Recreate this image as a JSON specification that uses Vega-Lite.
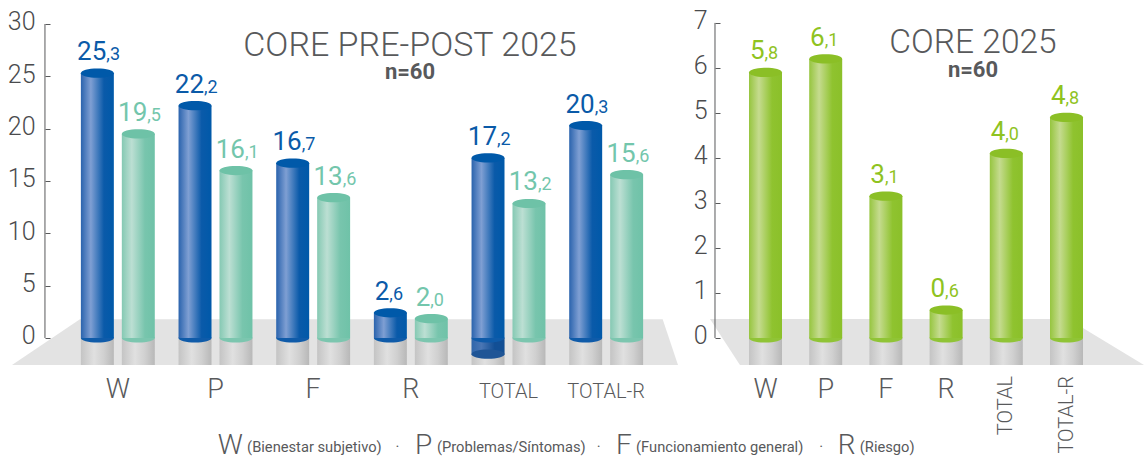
{"$schema":"https://vega.github.io/schema/vega-lite/v6.json","background":"white","padding":{"left":7,"top":8,"right":0,"bottom":92},"bounds":"flush","spacing":32,"config":{"view":{"stroke":null},"font":"Roboto"},"datasets":{"left":[{"cat":"W","series":"pre","value":25.3,"int":"25","dec":",3","digits":2},{"cat":"W","series":"post","value":19.5,"int":"19","dec":",5","digits":2},{"cat":"P","series":"pre","value":22.2,"int":"22","dec":",2","digits":2},{"cat":"P","series":"post","value":16.0,"int":"16","dec":",1","digits":2},{"cat":"F","series":"pre","value":16.7,"int":"16","dec":",7","digits":2},{"cat":"F","series":"post","value":13.4,"int":"13","dec":",6","digits":2},{"cat":"R","series":"pre","value":2.4,"int":"2","dec":",6","digits":1},{"cat":"R","series":"post","value":1.85,"int":"2","dec":",0","digits":1},{"cat":"TOTAL","series":"pre","value":17.2,"int":"17","dec":",2","digits":2},{"cat":"TOTAL","series":"post","value":12.85,"int":"13","dec":",2","digits":2},{"cat":"TOTAL-R","series":"pre","value":20.3,"int":"20","dec":",3","digits":2},{"cat":"TOTAL-R","series":"post","value":15.6,"int":"15","dec":",6","digits":2}],"right":[{"cat":"W","value":5.9,"int":"5","dec":",8"},{"cat":"P","value":6.2,"int":"6","dec":",1"},{"cat":"F","value":3.15,"int":"3","dec":",1"},{"cat":"R","value":0.62,"int":"0","dec":",6"},{"cat":"TOTAL","value":4.1,"int":"4","dec":",0"},{"cat":"TOTAL-R","value":4.9,"int":"4","dec":",8"}],"floorL":[{"u":0,"y":-2.58,"y2":-2.58},{"u":0.102,"y":-2.58,"y2":1.8},{"u":0.977,"y":-2.58,"y2":1.8},{"u":1,"y":-2.58,"y2":-2.58}],"floorR2":[{"u":0,"y":0.42,"y2":0.42},{"u":0.069,"y":-0.6,"y2":0.42},{"u":0.825,"y":-0.6,"y2":0.42},{"u":1,"y":-0.6,"y2":-0.6}],"legendBig":[{"u":0.309,"t":"W"},{"u":0.605,"t":"P"},{"u":0.907,"t":"F"},{"u":1.24,"t":"R"}],"legendSmall":[{"u":0.353,"t":"(Bienestar subjetivo)"},{"u":0.638,"t":"(Problemas/Síntomas)"},{"u":0.937,"t":"(Funcionamiento general)"},{"u":1.273,"t":"(Riesgo)"},{"u":0.576,"t":"·"},{"u":0.878,"t":"·"},{"u":1.212,"t":"·"}]},"hconcat":[{"width":666,"height":343,"title":{"text":"CORE PRE-POST 2025","subtitle":"n=60","anchor":"middle","dx":65,"offset":-73,"fontSize":34,"font":"Roboto","fontWeight":300,"color":"#58595b","subtitleFont":"Roboto","subtitleFontSize":22,"subtitleFontWeight":"bold","subtitleColor":"#58595b","subtitlePadding":-1},"resolve":{"scale":{"x":"independent"}},"layer":[{"encoding":{"x":{"field":"u","type":"quantitative","scale":{"domain":[0,1]},"axis":null}},"layer":[{"data":{"name":"floorL"},"mark":{"type":"area","color":"#e3e3e3"},"encoding":{"y":{"field":"y","type":"quantitative","scale":{"domain":[-2.58,30.19],"nice":false}},"y2":{"field":"y2"}}},{"data":{"values":[{"u":0.0495}]},"mark":{"type":"rule","color":"#58595b","strokeWidth":1},"encoding":{"y":{"datum":0,"type":"quantitative"},"y2":{"datum":30}}},{"data":{"name":"legendBig"},"mark":{"type":"text","align":"left","baseline":"alphabetic","fontSize":28,"fontWeight":300,"color":"#58595b"},"encoding":{"y":{"datum":-11.1,"type":"quantitative"},"text":{"field":"t"}}},{"data":{"name":"legendSmall"},"mark":{"type":"text","align":"left","baseline":"alphabetic","fontSize":14.7,"font":"Roboto","color":"#58595b"},"encoding":{"y":{"datum":-10.85,"type":"quantitative"},"text":{"field":"t"}}}]},{"data":{"name":"left"},"encoding":{"x":{"field":"cat","type":"nominal","sort":null,"scale":{"domain":["W","P","F","R","TOTAL","TOTAL-R"],"range":[57,643],"paddingInner":0,"paddingOuter":0},"axis":{"title":null,"ticks":false,"domain":false,"labelAngle":0,"labelBaseline":"alphabetic","labelPadding":32,"labelColor":"#58595b","labelFont":"Roboto","labelFontWeight":300,"labelFontSize":{"condition":{"test":"length(datum.label)>1","value":20},"value":27}}},"xOffset":{"field":"series","sort":["pre","post"],"scale":{"paddingInner":0.195,"paddingOuter":0.29}}},"layer":[{"mark":{"type":"bar","color":{"gradient":"linear","x1":0,"y1":0,"x2":1,"y2":0,"stops":[{"offset":0,"color":"#c4c4c4"},{"offset":0.4,"color":"#e0e0e0"},{"offset":0.7,"color":"#d0d0d0"},{"offset":1,"color":"#b8b8b8"}]}},"encoding":{"y":{"datum":0,"type":"quantitative","axis":{"title":null,"values":[0,5,10,15,20,25,30],"grid":false,"domain":false,"offset":-33,"zindex":1,"tickSize":-5,"tickColor":"#58595b","labelFontSize":25,"labelFont":"Roboto","labelFontWeight":300,"labelColor":"#4a4b4d","labelPadding":15,"labelBaseline":"alphabetic","labelOffset":6}},"y2":{"datum":-2.58}}},{"transform":[{"filter":"datum.cat=='TOTAL'&&datum.series=='pre'"}],"mark":{"type":"bar","color":{"gradient":"linear","x1":0,"y1":0,"x2":1,"y2":0,"stops":[{"offset":0,"color":"#2f66ab"},{"offset":0.3,"color":"#4a76b4"},{"offset":0.7,"color":"#124f95"},{"offset":1,"color":"#124f95"}]}},"encoding":{"y":{"datum":0,"type":"quantitative"},"y2":{"datum":-1.55}}},{"transform":[{"filter":"datum.cat=='TOTAL'&&datum.series=='pre'"}],"mark":{"type":"point","filled":true,"opacity":1,"size":1089,"shape":"M-1,0 A1,0.28 0 1 1 1,0 A1,0.28 0 1 1 -1,0 Z","color":"#1f5596"},"encoding":{"y":{"datum":-1.55,"type":"quantitative"}}},{"mark":{"type":"point","filled":true,"opacity":1,"size":1089,"shape":"M-1,0 A1,0.28 0 1 1 1,0 A1,0.28 0 1 1 -1,0 Z"},"encoding":{"y":{"datum":0,"type":"quantitative"},"color":{"condition":{"test":"datum.series=='pre'","value":"#0f5ba9"},"value":"#7cc6af"}}},{"mark":{"type":"bar"},"encoding":{"y":{"field":"value","type":"quantitative"},"y2":{"datum":0},"color":{"condition":{"test":"datum.series=='pre'","value":{"gradient":"linear","x1":0,"y1":0,"x2":1,"y2":0,"stops":[{"offset":0,"color":"#2a63ad"},{"offset":0.3,"color":"#7f9fd3"},{"offset":0.7,"color":"#0a5aa9"},{"offset":1,"color":"#0059a9"}]}},"value":{"gradient":"linear","x1":0,"y1":0,"x2":1,"y2":0,"stops":[{"offset":0,"color":"#85c9b3"},{"offset":0.3,"color":"#bcdfd3"},{"offset":0.7,"color":"#78c5ad"},{"offset":1,"color":"#6fc2a8"}]}}}},{"mark":{"type":"point","filled":true,"opacity":1,"size":1089,"shape":"M-1,0 A1,0.28 0 1 1 1,0 A1,0.28 0 1 1 -1,0 Z"},"encoding":{"y":{"field":"value","type":"quantitative"},"color":{"condition":{"test":"datum.series=='pre'","value":"#0059a9"},"value":"#6ec2a7"}}},{"transform":[{"filter":"datum.digits==2"}],"mark":{"type":"text","align":"right","baseline":"alphabetic","dx":9,"dy":-13,"fontSize":26},"encoding":{"y":{"field":"value","type":"quantitative"},"text":{"field":"int"},"color":{"condition":{"test":"datum.series=='pre'","value":"#0a5aa8"},"value":"#73c6ac"}}},{"transform":[{"filter":"datum.digits==2"}],"mark":{"type":"text","align":"left","baseline":"alphabetic","dx":9,"dy":-13,"fontSize":18},"encoding":{"y":{"field":"value","type":"quantitative"},"text":{"field":"dec"},"color":{"condition":{"test":"datum.series=='pre'","value":"#0a5aa8"},"value":"#73c6ac"}}},{"transform":[{"filter":"datum.digits==1"}],"mark":{"type":"text","align":"right","baseline":"alphabetic","dx":-1,"dy":-13,"fontSize":26},"encoding":{"y":{"field":"value","type":"quantitative"},"text":{"field":"int"},"color":{"condition":{"test":"datum.series=='pre'","value":"#0a5aa8"},"value":"#73c6ac"}}},{"transform":[{"filter":"datum.digits==1"}],"mark":{"type":"text","align":"left","baseline":"alphabetic","dx":-1,"dy":-13,"fontSize":18},"encoding":{"y":{"field":"value","type":"quantitative"},"text":{"field":"dec"},"color":{"condition":{"test":"datum.series=='pre'","value":"#0a5aa8"},"value":"#73c6ac"}}}]}]},{"width":434,"height":343,"title":{"text":"CORE 2025","subtitle":"n=60","anchor":"middle","dx":46,"offset":-73,"fontSize":33.5,"font":"Roboto","fontWeight":300,"color":"#58595b","subtitleFont":"Roboto","subtitleFontSize":22,"subtitleFontWeight":"bold","subtitleColor":"#58595b","subtitlePadding":-1},"resolve":{"scale":{"x":"independent"}},"layer":[{"encoding":{"x":{"field":"u","type":"quantitative","scale":{"domain":[0,1]},"axis":null}},"layer":[{"data":{"name":"floorR2"},"mark":{"type":"area","color":"#e3e3e3"},"encoding":{"y":{"field":"y","type":"quantitative","scale":{"domain":[-0.6,7.02],"nice":false}},"y2":{"field":"y2"}}},{"data":{"values":[{"u":0.0115}]},"mark":{"type":"rule","color":"#58595b","strokeWidth":1},"encoding":{"y":{"datum":0,"type":"quantitative"},"y2":{"datum":7}}}]},{"data":{"name":"right"},"encoding":{"x":{"field":"cat","type":"nominal","sort":null,"scale":{"domain":["W","P","F","R","TOTAL","TOTAL-R"],"range":[25.4,386.6],"paddingInner":0,"paddingOuter":0},"axis":{"title":null,"ticks":false,"domain":false,"labelPadding":11,"labelColor":"#58595b","labelFont":"Roboto","labelFontWeight":300,"labelFontSize":27,"labelAngle":0,"labelBaseline":"top","labelExpr":"length(datum.label)>1?'':datum.label"}}},"layer":[{"mark":{"type":"bar","size":33,"color":{"gradient":"linear","x1":0,"y1":0,"x2":1,"y2":0,"stops":[{"offset":0,"color":"#c4c4c4"},{"offset":0.4,"color":"#e0e0e0"},{"offset":0.7,"color":"#d0d0d0"},{"offset":1,"color":"#b8b8b8"}]}},"encoding":{"y":{"datum":0,"type":"quantitative","axis":{"title":null,"values":[0,1,2,3,4,5,6,7],"grid":false,"domain":false,"offset":-5,"zindex":1,"tickSize":-5,"tickColor":"#58595b","labelFontSize":25,"labelFont":"Roboto","labelFontWeight":300,"labelColor":"#4a4b4d","labelPadding":13,"labelBaseline":"alphabetic","labelOffset":6}},"y2":{"datum":-0.6}}},{"mark":{"type":"point","filled":true,"opacity":1,"size":1089,"shape":"M-1,0 A1,0.28 0 1 1 1,0 A1,0.28 0 1 1 -1,0 Z","color":"#90c436"},"encoding":{"y":{"datum":0,"type":"quantitative"}}},{"mark":{"type":"bar","size":33,"color":{"gradient":"linear","x1":0,"y1":0,"x2":1,"y2":0,"stops":[{"offset":0,"color":"#96c53f"},{"offset":0.3,"color":"#c5db8f"},{"offset":0.7,"color":"#8fc32f"},{"offset":1,"color":"#8bc02a"}]}},"encoding":{"y":{"field":"value","type":"quantitative"},"y2":{"datum":0}}},{"mark":{"type":"point","filled":true,"opacity":1,"size":1089,"shape":"M-1,0 A1,0.28 0 1 1 1,0 A1,0.28 0 1 1 -1,0 Z","color":"#8bbf26"},"encoding":{"y":{"field":"value","type":"quantitative"}}},{"mark":{"type":"text","align":"right","baseline":"alphabetic","dx":-1,"dy":-13,"fontSize":26,"color":"#8fc31f"},"encoding":{"y":{"field":"value","type":"quantitative"},"text":{"field":"int"}}},{"mark":{"type":"text","align":"left","baseline":"alphabetic","dx":-1,"dy":-13,"fontSize":18,"color":"#8fc31f"},"encoding":{"y":{"field":"value","type":"quantitative"},"text":{"field":"dec"}}},{"transform":[{"filter":"length(datum.cat)>1"}],"mark":{"type":"text","angle":270,"align":"right","baseline":"middle","fontSize":20,"fontWeight":300,"color":"#58595b"},"encoding":{"y":{"datum":-0.844,"type":"quantitative"},"text":{"field":"cat"}}}]}]}]}
